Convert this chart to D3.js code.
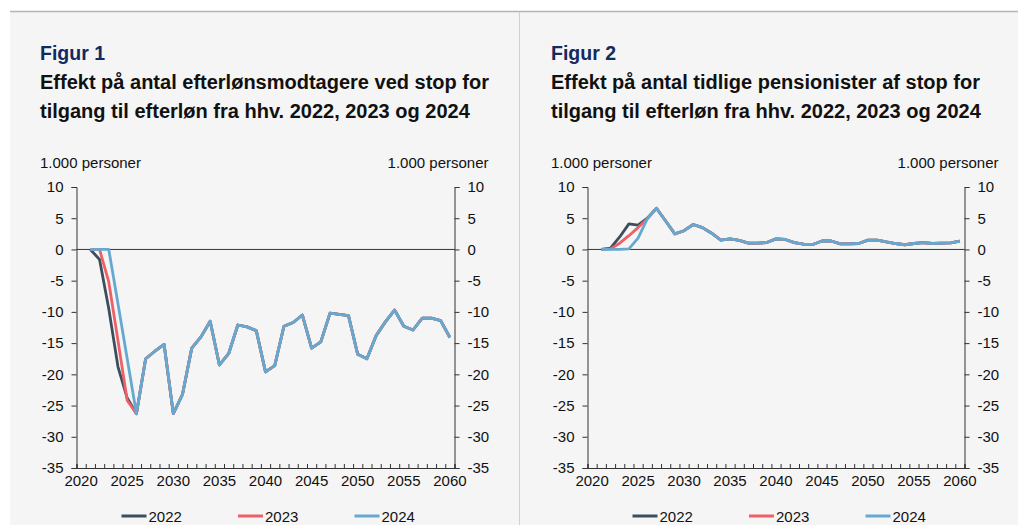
<!DOCTYPE html>
<html>
<head>
<meta charset="utf-8">
<script src="https://cdn.jsdelivr.net/npm/d3@7"></script>
<style>
  body { margin: 0; background: #fff; }
  svg text { font-family: Arial, "Liberation Sans", sans-serif; }
</style>
</head>
<body>
<script>
// categories
var years = [2021, 2022, 2023, 2024, 2025, 2026, 2027, 2028, 2029, 2030,
             2031, 2032, 2033, 2034, 2035, 2036, 2037, 2038, 2039, 2040,
             2041, 2042, 2043, 2044, 2045, 2046, 2047, 2048, 2049, 2050,
             2051, 2052, 2053, 2054, 2055, 2056, 2057, 2058, 2059, 2060];
var axisYears = [2020, 2025, 2030, 2035, 2040, 2045, 2050, 2055, 2060];
var yTicks = [-35, -30, -25, -20, -15, -10, -5, 0, 5, 10];
var seriesNames = ["2022", "2023", "2024"];
var seriesColors = ["#3b4e5d", "#ef5f66", "#65a9d0"];

// Figur 1 - efterlønsmodtagere
var fig1_2022 = [0, -1.6, -9.5, -18.8, -23.8, -26.3, -17.5, -16.3, -15.2, -26.3,
                 -23.2, -15.8, -14.0, -11.5, -18.5, -16.7, -12.1, -12.4, -13.0, -19.6,
                 -18.6, -12.3, -11.7, -10.5, -15.8, -14.8, -10.2, -10.4, -10.6, -16.8,
                 -17.5, -13.8, -11.6, -9.7, -12.3, -12.9, -11.0, -11.0, -11.4, -14.1];
var fig1_2023 = [0, 0, -5.2, -14.6, -24.2, -26.3, -17.5, -16.3, -15.2, -26.3,
                 -23.2, -15.8, -14.0, -11.5, -18.5, -16.7, -12.1, -12.4, -13.0, -19.6,
                 -18.6, -12.3, -11.7, -10.5, -15.8, -14.8, -10.2, -10.4, -10.6, -16.8,
                 -17.5, -13.8, -11.6, -9.7, -12.3, -12.9, -11.0, -11.0, -11.4, -14.1];
var fig1_2024 = [0, 0, 0, -8.7, -17.5, -26.3, -17.5, -16.3, -15.2, -26.3,
                 -23.2, -15.8, -14.0, -11.5, -18.5, -16.7, -12.1, -12.4, -13.0, -19.6,
                 -18.6, -12.3, -11.7, -10.5, -15.8, -14.8, -10.2, -10.4, -10.6, -16.8,
                 -17.5, -13.8, -11.6, -9.7, -12.3, -12.9, -11.0, -11.0, -11.4, -14.1];

// Figur 2 - tidlige pensionister
var fig2_2022 = [0, 0.2, 2.0, 4.1, 3.9, 5.0, 6.6, 4.55, 2.5, 3.0,
                 4.0, 3.5, 2.6, 1.5, 1.7, 1.45, 1.0, 1.0, 1.1, 1.7,
                 1.6, 1.1, 0.85, 0.8, 1.35, 1.35, 0.9, 0.9, 0.95, 1.5,
                 1.5, 1.2, 0.95, 0.75, 0.95, 1.1, 0.95, 1.0, 1.05, 1.35];
var fig2_2023 = [0, 0.1, 1.0, 2.2, 3.5, 4.9, 6.6, 4.55, 2.5, 3.0,
                 4.0, 3.5, 2.6, 1.5, 1.7, 1.45, 1.0, 1.0, 1.1, 1.7,
                 1.6, 1.1, 0.85, 0.8, 1.35, 1.35, 0.9, 0.9, 0.95, 1.5,
                 1.5, 1.2, 0.95, 0.75, 0.95, 1.1, 0.95, 1.0, 1.05, 1.35];
var fig2_2024 = [0, 0, 0, 0.1, 1.8, 4.9, 6.6, 4.55, 2.5, 3.0,
                 4.0, 3.5, 2.6, 1.5, 1.7, 1.45, 1.0, 1.0, 1.1, 1.7,
                 1.6, 1.1, 0.85, 0.8, 1.35, 1.35, 0.9, 0.9, 0.95, 1.5,
                 1.5, 1.2, 0.95, 0.75, 0.95, 1.1, 0.95, 1.0, 1.05, 1.35];

var W = 1018, H = 525;
var svg = d3.select("body").append("svg")
    .attr("width", W).attr("height", H);

// grey panel + borders
svg.append("rect").attr("x", 10).attr("y", 11).attr("width", W - 10).attr("height", H - 11)
    .attr("fill", "#f5f5f5");
svg.append("line").attr("x1", 10).attr("x2", W).attr("y1", 11.5).attr("y2", 11.5)
    .attr("stroke", "#b4b4b4").attr("stroke-width", 1.5);
svg.append("line").attr("x1", 519.5).attr("x2", 519.5).attr("y1", 12).attr("y2", H)
    .attr("stroke", "#d0d0d0");

function drawChart(opt) {
  var g = svg.append("g");
  var tx = opt.textX;

  g.append("text").attr("x", tx).attr("y", 60).text(opt.fig)
    .style("font-size", "19.5px").style("font-weight", "bold").attr("fill", "#132a5e");
  opt.title.forEach(function (t, i) {
    g.append("text").attr("x", tx).attr("y", 89 + i * 28.5).text(t)
      .style("font-size", "20px").style("font-weight", "bold").attr("fill", "#111");
  });

  var x = d3.scaleBand().domain(d3.range(2020, 2061)).range([opt.x0, opt.x1]).padding(0);
  var xTick = d3.scaleLinear().domain([2019.5, 2060.5]).range([opt.x0, opt.x1]);
  var y = d3.scaleLinear().domain([-35, 10]).range([468, 187]);

  g.append("text").attr("x", tx).attr("y", 168).text("1.000 personer")
    .style("font-size", "15px").attr("fill", "#111");
  g.append("text").attr("x", opt.x1 + 34).attr("y", 168).attr("text-anchor", "end")
    .text("1.000 personer").style("font-size", "15px").attr("fill", "#111");

  var fmt = function (d) { return String(d); };

  // y axes
  var yl = g.append("g").attr("transform", "translate(" + opt.x0 + ",0)")
    .call(d3.axisLeft(y).tickValues(yTicks).tickSize(5).tickPadding(8).tickFormat(fmt));
  var yr = g.append("g").attr("transform", "translate(" + opt.x1 + ",0)")
    .call(d3.axisRight(y).tickValues(yTicks).tickSize(5).tickPadding(8).tickFormat(fmt));

  // x axis: minor ticks at band edges, labels in band centres
  var xa = g.append("g").attr("transform", "translate(0,468)")
    .call(d3.axisBottom(xTick).tickValues(d3.range(2019.5, 2061, 1)).tickSize(-4).tickFormat(""));
  var xl = g.append("g").attr("transform", "translate(0,468)")
    .call(d3.axisBottom(x).tickValues(axisYears).tickSize(0).tickPadding(7).tickFormat(fmt));
  xl.select(".domain").remove();

  [yl, yr, xa, xl].forEach(function (a) {
    a.selectAll(".domain").attr("stroke", "#333");
    a.selectAll(".tick line").attr("stroke", "#333");
    a.selectAll("text").style("font-size", "15px").attr("fill", "#111");
  });

  // zero line
  g.append("line").attr("x1", opt.x0).attr("x2", opt.x1)
    .attr("y1", y(0)).attr("y2", y(0)).attr("stroke", "#333");

  var line = d3.line()
    .x(function (d, i) { return x(years[i]) + x.bandwidth() / 2; })
    .y(function (d) { return y(d); });

  opt.series.forEach(function (s, k) {
    g.append("path").datum(s).attr("d", line)
      .attr("fill", "none").attr("stroke", seriesColors[k])
      .attr("stroke-width", 2.8).attr("stroke-linejoin", "round");
  });

  // legend
  seriesNames.forEach(function (n, k) {
    var lx = opt.x0 + 45 + k * 116.5;
    g.append("line").attr("x1", lx).attr("x2", lx + 25).attr("y1", 516).attr("y2", 516)
      .attr("stroke", seriesColors[k]).attr("stroke-width", 3);
    g.append("text").attr("x", lx + 27).attr("y", 521.5).text(n)
      .style("font-size", "15px").attr("fill", "#111");
  });
}

drawChart({
  fig: "Figur 1",
  title: ["Effekt på antal efterlønsmodtagere ved stop for",
          "tilgang til efterløn fra hhv. 2022, 2023 og 2024"],
  textX: 40, x0: 76.5, x1: 454.5,
  series: [fig1_2022, fig1_2023, fig1_2024]
});
drawChart({
  fig: "Figur 2",
  title: ["Effekt på antal tidlige pensionister af stop for",
          "tilgang til efterløn fra hhv. 2022, 2023 og 2024"],
  textX: 551, x0: 587.5, x1: 964.5,
  series: [fig2_2022, fig2_2023, fig2_2024]
});
</script>
</body>
</html>
